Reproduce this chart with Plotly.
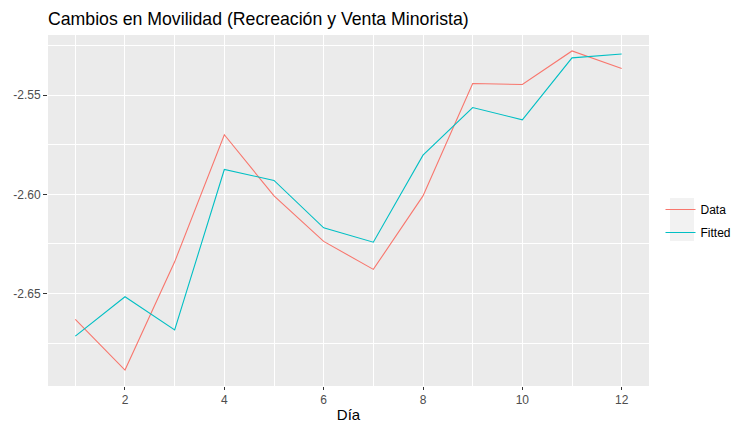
import plotly.graph_objects as go

dias = [1, 2, 3, 4, 5, 6, 7, 8, 9, 10, 11, 12]
data_vals = [-2.663, -2.6885, -2.634, -2.570, -2.6008, -2.6237,
             -2.6378, -2.6008, -2.5442, -2.5447, -2.5278, -2.5366]
fitted_vals = [-2.6714, -2.6516, -2.6683, -2.5875, -2.593, -2.6169,
               -2.6241, -2.5803, -2.5563, -2.5625, -2.5313, -2.5293]
y_ticks = [-2.65, -2.60, -2.55]
y_tick_text = ["-2.65", "-2.60", "-2.55"]
x_ticks = [2, 4, 6, 8, 10, 12]

FONT = "Liberation Sans, Arial, sans-serif"

W, H = 732, 424
ML, MR, MT, MB = 48, 83, 35, 38
PW = W - ML - MR
PH = H - MT - MB

fig = go.Figure()
fig.add_trace(go.Scatter(x=dias, y=data_vals, mode="lines", name="Data",
                         legendgroup="data",
                         line=dict(color="#F8766D", width=1.1)))
fig.add_trace(go.Scatter(x=dias, y=fitted_vals, mode="lines", name="Fitted",
                         legendgroup="fitted",
                         line=dict(color="#00BFC4", width=1.1)))

allv = data_vals + fitted_vals
lo, hi = min(allv), max(allv)
pad = (hi - lo) * 0.05
xpad = (max(dias) - min(dias)) * 0.05

# light grey legend-key background (ggplot style)
fig.add_shape(type="rect", xref="paper", yref="paper",
              x0=(670 - ML) / PW, x1=(694 - ML) / PW,
              y0=1 - (241 - MT) / PH, y1=1 - (198 - MT) / PH,
              fillcolor="#F2F2F2", line=dict(width=0), layer="below")

fig.update_layout(
    width=W, height=H,
    margin=dict(l=ML, r=MR, t=MT, b=MB, autoexpand=False),
    paper_bgcolor="white",
    plot_bgcolor="#EBEBEB",
    font=dict(family=FONT, color="#4D4D4D", size=12),
    title=dict(text="Cambios en Movilidad (Recreación y Venta Minorista)",
               x=ML / W, xanchor="left", y=1 - 19 / H, yanchor="middle",
               font=dict(family=FONT, size=17.7, color="black")),
    showlegend=True,
    legend=dict(x=(660.5 - ML) / PW, xanchor="left",
                y=1 - (221 - MT) / PH, yanchor="middle",
                bgcolor="rgba(0,0,0,0)", font=dict(size=12, color="black"),
                traceorder="grouped", tracegroupgap=4, itemwidth=30),
    xaxis=dict(range=[min(dias) - xpad, max(dias) + xpad], automargin=False,
               tickvals=x_ticks, ticks="outside", ticklen=3, tickcolor="#333333",
               tickwidth=1, showgrid=True, gridcolor="white", gridwidth=1.1,
               zeroline=False, showline=False,
               tickfont=dict(size=12, color="#4D4D4D"),
               title=dict(text="Día", font=dict(size=15, color="black"), standoff=3),
               minor=dict(tickvals=[1, 3, 5, 7, 9, 11], showgrid=True,
                          gridcolor="white", gridwidth=0.6, ticks="")),
    yaxis=dict(range=[lo - pad, hi + pad], automargin=False,
               tickvals=y_ticks, ticktext=y_tick_text, ticks="outside", ticklen=4,
               tickcolor="#333333", tickwidth=1, showgrid=True, gridcolor="white",
               gridwidth=1.1, zeroline=False, showline=False,
               tickfont=dict(size=12, color="#4D4D4D"),
               minor=dict(tickvals=[-2.675, -2.625, -2.575, -2.525], showgrid=True,
                          gridcolor="white", gridwidth=0.6, ticks="")),
)

# remove the browser's default 8px page margin so the figure fills the window
fig.write_html("out.html", config={"displayModeBar": False},
               post_script="document.body.style.margin='0';")
